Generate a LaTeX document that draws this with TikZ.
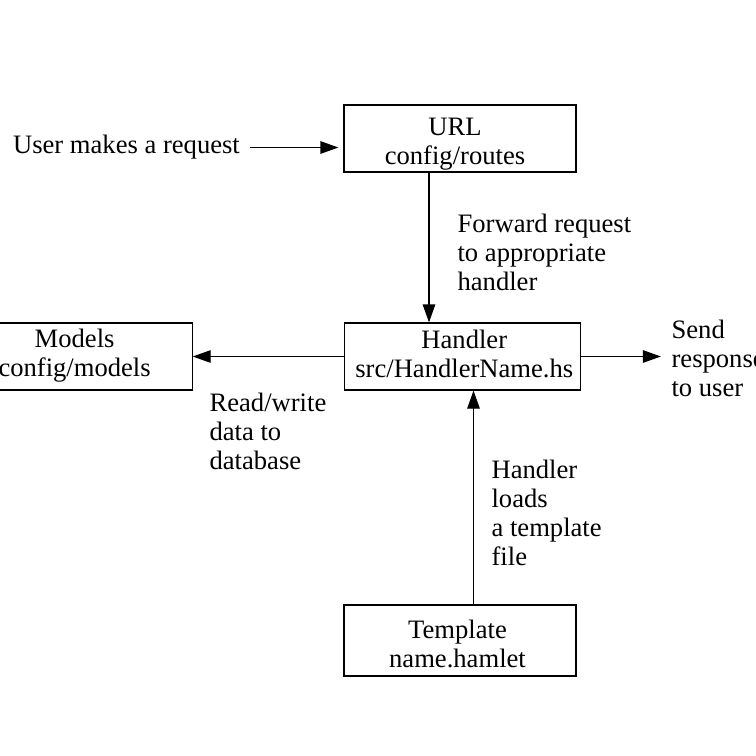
\documentclass[tikz,border=0pt]{standalone}
\usepackage{fontspec}
\setmainfont{Liberation Serif}
\usepackage{tikz}
\usetikzlibrary{positioning}
\usetikzlibrary{arrows.meta}
\tikzset{>={Triangle[width=12.5pt,length=18pt]}}

\begin{document}
\begin{tikzpicture}[x=1pt, y=-1pt, line width=1.2pt, font=\fontsize{26.6}{29}\selectfont, boxnode/.style={rectangle, draw=black, fill=white, minimum width=232pt, minimum height=67pt}, boxtext/.style={align=center, inner sep=0pt, anchor=north, execute at begin node=\strut}, textnode/.style={draw=none, fill=none, align=left, inner sep=0pt, anchor=north west, execute at begin node=\strut}]
    \useasboundingbox (0,0) rectangle (756,756);
    \clip (0,0) rectangle (756,756);

    %Nodes
    \node[boxnode](url) at (460,138.5){};
    \node[boxnode, minimum width=236pt](handler) at (462.3,356.5){};
    \node[boxnode, minimum width=231pt](models)[left=151pt of handler]{};
    \node[boxnode, minimum height=71pt](template) at (460,640.5){};

    \node[boxtext](url_text) at ([xshift=-5pt, yshift=-12.7pt]url.north){URL\\config/routes};
    \node[boxtext](handler_text) at ([xshift=2pt, yshift=-7pt]handler.north){Handler\\src/HandlerName.hs};
    \node[boxtext](models_text) at ([xshift=-2pt, yshift=-6.4pt]models.north){Models\\config/models};
    \node[boxtext](template_text) at ([xshift=-2.5pt, yshift=-15pt]template.north){Template\\name.hamlet};

    \node[textnode, anchor=base west, execute at begin node={}](user) at (12.5,153.3){User makes a request};
    \node[textnode](forward_text) at (457,213){Forward request\\to appropriate\\handler};
    \node[textnode](rw_text) at (209,392){Read/write\\data to\\database};
    \node[textnode](send_text) at (671,319){Send\\response\\to user};
    \node[textnode](loads_text) at (491,459.5){Handler\\loads\\a template\\file};
    \coordinate (respond) at ([xshift=80pt]handler.east);

    %Lines
    \draw[->, shorten >=5pt] ([xshift=10pt]user.east) -- (user.east -| url.west);
    \draw[->] ([xshift=-31pt]url.south) -- ([xshift=-31pt]url.south |- handler.north);
    \draw[->] (handler.west) -- (models.east);
    \draw[->] (handler.east) -- (respond);
    \draw[->] ([xshift=13.5pt]template.north) -- ([xshift=13.5pt]template.north |- handler.south);

\end{tikzpicture}
\end{document}
